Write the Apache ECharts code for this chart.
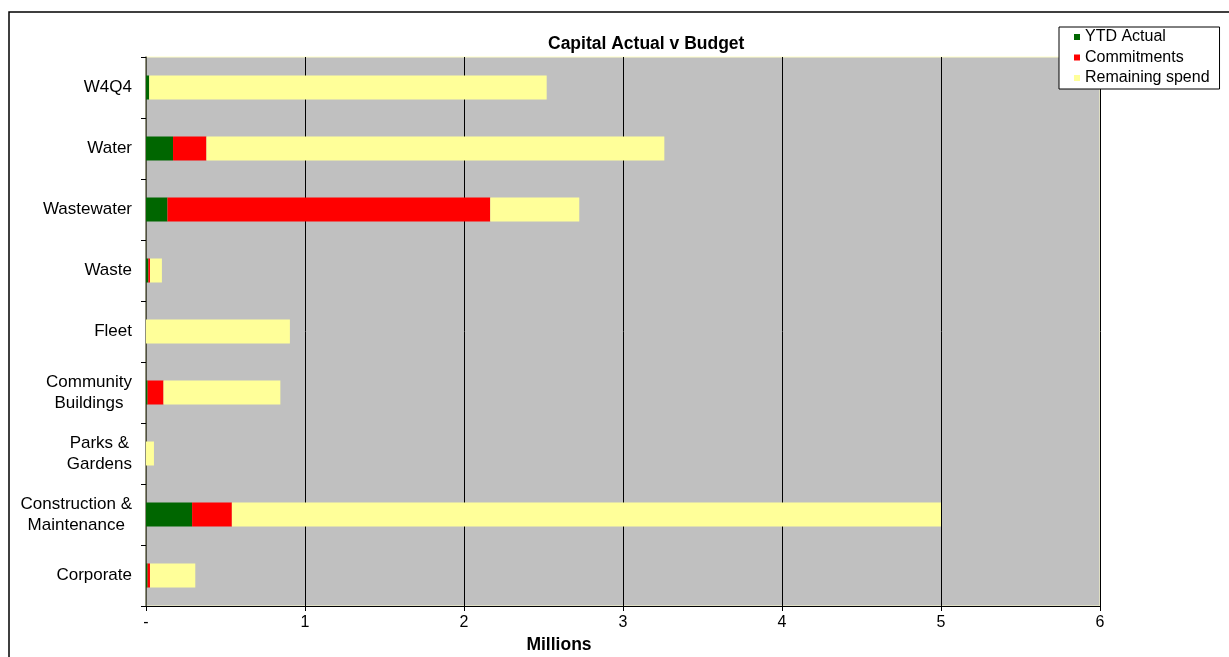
<!DOCTYPE html>
<html>
<head>
<meta charset="utf-8">
<style>
  html, body { margin: 0; padding: 0; background: #ffffff; }
  #chart { width: 1229px; height: 657px; }
</style>
<script src="https://cdn.jsdelivr.net/npm/echarts@6/dist/echarts.min.js"></script>
</head>
<body>
<div id="chart"></div>
<script>
// Capital spend per programme, in millions
const categories = [
  'W4Q4',
  'Water',
  'Wastewater',
  'Waste',
  'Fleet',
  'Community\nBuildings',
  'Parks &\nGardens',
  'Construction &\nMaintenance',
  'Corporate'
];
const ytdActual = [0.02, 0.17, 0.135, 0.015, 0, 0.01, 0, 0.29, 0.01];
const commitments = [0, 0.21, 2.03, 0.01, 0, 0.10, 0, 0.25, 0.015];
const remainingSpend = [2.50, 2.88, 0.56, 0.075, 0.905, 0.735, 0.05, 4.46, 0.285];
const seriesNames = ['YTD Actual', 'Commitments', 'Remaining spend'];
const xTicks = [0, 1, 2, 3, 4, 5, 6];

const FONT = '"Liberation Sans", Arial, sans-serif';
const colors = ['#006600', '#ff0000', '#ffff99'];

const chart = echarts.init(document.getElementById('chart'), null, { renderer: 'canvas' });

function barSeries(name, data, color) {
  return {
    name: name,
    type: 'bar',
    stack: 'spend',
    data: data,
    barWidth: 24,
    itemStyle: { color: color },
    emphasis: { disabled: true },
    animation: false
  };
}

chart.setOption({
  backgroundColor: '#ffffff',
  animation: false,
  title: {
    text: 'Capital Actual v Budget',
    left: 548,
    top: 35,
    padding: 0,
    textStyle: { fontFamily: FONT, fontSize: 17.5, fontWeight: 'bold', color: '#000' }
  },
  legend: {
    data: seriesNames,
    orient: 'vertical',
    left: 1059,
    top: 27,
    padding: [0, 10, 1, 15],
    itemGap: 0.5,
    itemWidth: 6,
    itemHeight: 6,
    icon: 'rect',
    backgroundColor: '#ffffff',
    borderColor: '#000000',
    borderWidth: 1,
    borderRadius: 0,
    textStyle: { fontFamily: FONT, fontSize: 16, color: '#000', lineHeight: 20 }
  },
  graphic: [{
    type: 'rect',
    z: -10,
    silent: true,
    shape: { x: 9, y: 12, width: 1400, height: 800 },
    style: { fill: null, stroke: '#000000', lineWidth: 1.5 }
  }],
  grid: {
    left: 146,
    top: 57,
    right: 129,
    bottom: 51,
    outerBoundsMode: 'none',
    containLabel: false,
    show: true,
    backgroundColor: '#c0c0c0',
    borderColor: '#ffffc8',
    borderWidth: 1
  },
  xAxis: {
    type: 'value',
    min: xTicks[0],
    max: xTicks[xTicks.length - 1],
    interval: 1,
    name: 'Millions',
    nameLocation: 'middle',
    nameGap: 30,
    nameTextStyle: {
      fontFamily: FONT, fontSize: 17.5, fontWeight: 'bold', color: '#000',
      padding: [0, 128, 0, 0]
    },
    axisLine: { show: true, lineStyle: { color: '#000', width: 1 } },
    axisTick: { show: true, length: 5, lineStyle: { color: '#000' } },
    axisLabel: {
      margin: 9,
      fontFamily: FONT,
      fontSize: 16,
      color: '#000',
      formatter: v => (v === 0 ? '-' : String(v))
    },
    splitLine: { show: true, lineStyle: { color: '#000', width: 1 } }
  },
  yAxis: {
    type: 'category',
    data: categories,
    inverse: true,
    axisLine: { show: true, lineStyle: { color: '#6b6b5a', width: 1.5 } },
    axisTick: { show: true, length: 5, lineStyle: { color: '#000' } },
    axisLabel: {
      margin: 14,
      fontFamily: FONT,
      fontSize: 17,
      color: '#000',
      lineHeight: 21,
      formatter: v => v.split('\n').map(s => '{c|' + s + '}').join('\n'),
      rich: {
        c: { align: 'center', fontFamily: FONT, fontSize: 17, color: '#000', lineHeight: 21 }
      }
    },
    splitLine: { show: false }
  },
  series: [
    barSeries(seriesNames[0], ytdActual, colors[0]),
    barSeries(seriesNames[1], commitments, colors[1]),
    barSeries(seriesNames[2], remainingSpend, colors[2])
  ]
});
</script>
</body>
</html>
